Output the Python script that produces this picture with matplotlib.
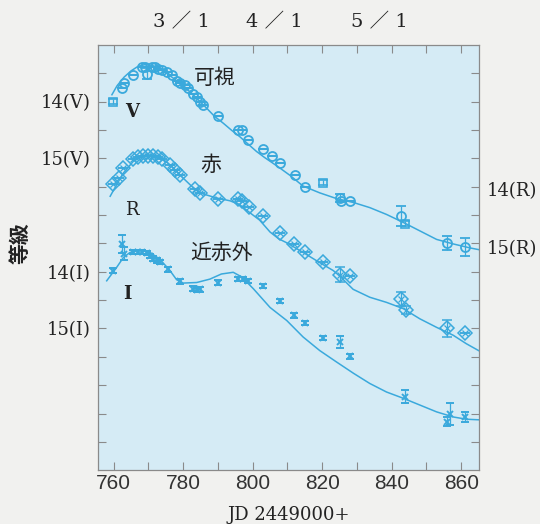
import matplotlib
matplotlib.use("Agg")
import matplotlib.pyplot as plt
import matplotlib.transforms as mtransforms
import numpy as np

# V band (display scale = V)
v_jd = [762.3, 763.0, 765.7, 768.1, 769.0, 769.5, 771.0, 771.9, 772.9, 773.8,
        775.3, 776.7, 778.1, 779.1, 780.5, 781.5, 782.9, 783.9, 784.8, 785.8,
        790.1, 795.9, 796.8, 798.7, 803.0, 805.5, 807.8, 812.2, 815.1, 825.1,
        825.4, 828.0, 842.8, 855.8, 861.0]
v_mag = [13.77, 13.68, 13.54, 13.39, 13.39, 13.51, 13.39, 13.40, 13.42, 13.45,
         13.48, 13.54, 13.63, 13.67, 13.71, 13.77, 13.86, 13.92, 14.01, 14.06,
         14.26, 14.50, 14.51, 14.67, 14.83, 14.96, 15.08, 15.30, 15.51, 15.70,
         15.75, 15.75, 16.02, 16.49, 16.56]
v_err = [0, 0, 0, 0, 0, 0.10, 0, 0, 0, 0,
         0, 0, 0, 0, 0, 0, 0, 0, 0, 0,
         0, 0, 0, 0, 0, 0, 0, 0, 0, 0.07,
         0, 0, 0.17, 0.12, 0.16]
vsq_jd = [759.9, 820.3, 843.8]
vsq_mag = [14.00, 15.43, 16.15]

# R band (display scale = R + 1.5)
r_jd = [759.9, 761.4, 762.8, 765.7, 767.1, 768.5, 770.0, 771.4, 772.9, 773.8,
        776.2, 777.7, 779.1, 783.4, 784.8, 790.1, 795.9, 796.8, 799.0, 803.0,
        808.0, 811.9, 815.0, 820.1, 825.1, 828.0, 842.8, 844.1, 855.8, 861.0]
r_mag = [15.46, 15.35, 15.17, 15.02, 14.98, 14.96, 14.96, 14.96, 14.98, 15.02,
         15.11, 15.20, 15.29, 15.55, 15.61, 15.71, 15.72, 15.75, 15.86, 16.02,
         16.31, 16.51, 16.66, 16.82, 17.05, 17.07, 17.48, 17.68, 18.00, 18.08]
r_err = [0, 0, 0, 0, 0, 0, 0, 0, 0, 0,
         0, 0, 0, 0, 0, 0, 0, 0, 0, 0,
         0, 0, 0, 0, 0.13, 0, 0.12, 0.07, 0.15, 0]

# I band (display scale = I + 3)
i_jd = [759.9, 762.3, 763.0, 765.7, 767.1, 768.1, 769.5, 770.5, 771.4, 772.4,
        773.3, 775.7, 779.1, 782.9, 783.9, 784.8, 790.1, 795.9, 797.3, 798.7,
        802.9, 807.8, 811.9, 815.0, 820.1, 825.1, 828.0, 843.8, 855.8, 856.7,
        861.0]
i_mag = [16.98, 16.51, 16.68, 16.65, 16.65, 16.65, 16.67, 16.72, 16.77, 16.80,
         16.83, 16.96, 17.17, 17.30, 17.32, 17.31, 17.19, 17.13, 17.13, 17.16,
         17.25, 17.52, 17.77, 17.90, 18.17, 18.24, 18.49, 19.20, 19.64, 19.51,
         19.56]
i_err = [0.04, 0.16, 0.12, 0.04, 0.04, 0.04, 0.04, 0.04, 0.04, 0.04,
         0.04, 0.04, 0.04, 0.04, 0.04, 0.04, 0.04, 0.04, 0.04, 0.04,
         0.04, 0.04, 0.04, 0.04, 0.04, 0.10, 0.04, 0.12, 0.08, 0.20,
         0.08]

# model light curves
vm_jd = [759.5, 761.0, 763.0, 765.0, 767.0, 769.0, 771.0, 773.0, 775.0, 777.2,
         780.0, 782.0, 784.0, 786.8, 789.0, 791.5, 794.0, 796.3, 798.5, 801.1,
         803.5, 805.9, 808.0, 810.7, 814.5, 819.3, 824.1, 829.0, 833.7, 838.5,
         843.3, 848.1, 852.9, 857.7, 862.5, 865.0]
vm_mag = [13.88, 13.72, 13.57, 13.46, 13.38, 13.35, 13.36, 13.41, 13.49, 13.59,
          13.74, 13.83, 13.95, 14.12, 14.26, 14.38, 14.51, 14.62, 14.74, 14.88,
          14.99, 15.09, 15.18, 15.30, 15.49, 15.61, 15.71, 15.78, 15.87, 15.99,
          16.13, 16.28, 16.43, 16.51, 16.58, 16.61]
rm_jd = [759.0, 760.9, 762.8, 765.7, 768.5, 771.4, 774.3, 777.2, 780.0, 782.9,
         785.8, 789.6, 793.5, 796.3, 799.2, 802.0, 805.0, 807.5, 809.8, 814.5,
         819.3, 823.2, 825.1, 828.9, 833.7, 838.5, 843.3, 848.1, 852.9, 857.7,
         861.5, 865.0]
rm_mag = [15.67, 15.46, 15.26, 15.05, 14.95, 14.95, 15.02, 15.17, 15.35, 15.52,
          15.63, 15.70, 15.75, 15.82, 15.96, 16.09, 16.30, 16.42, 16.49, 16.66,
          16.84, 16.98, 17.08, 17.31, 17.45, 17.54, 17.65, 17.83, 17.98, 18.12,
          18.27, 18.39]
im_jd = [758.0, 760.9, 762.8, 764.7, 767.6, 770.5, 773.3, 776.2, 778.1, 780.0,
         783.9, 787.7, 791.0, 794.4, 796.8, 800.2, 805.0, 809.8, 814.5, 819.3,
         824.1, 829.0, 833.7, 838.5, 843.3, 848.1, 852.9, 857.7, 861.5, 865.0]
im_mag = [17.16, 16.92, 16.75, 16.66, 16.62, 16.66, 16.78, 16.98, 17.14, 17.20,
          17.19, 17.13, 17.04, 17.01, 17.09, 17.30, 17.63, 17.86, 18.15, 18.39,
          18.59, 18.79, 18.97, 19.12, 19.23, 19.35, 19.47, 19.56, 19.60, 19.61]

month_jd = [779.4, 806.3, 836.5]
month_labels = ["3 ／ 1", "4 ／ 1", "5 ／ 1"]
left_ticks = [14, 15, 17, 18]
left_labels = ["14(V)", "15(V)", "14(I)", "15(I)"]
right_pos = [15.58, 16.6]
right_labels = ["14(R)", "15(R)"]

c = "#3aa9dc"
txt = "#222222"
serif = ["DejaVu Serif", "Noto Sans CJK JP"]
jp = ["Noto Sans CJK JP", "DejaVu Sans"]

fig = plt.figure(figsize=(5.4, 5.24), dpi=100, facecolor="#f1f1ef")
ax = fig.add_axes([0.1815, 0.1025, 0.7048, 0.812])
ax.set_facecolor("#d5ebf5")

ax.plot(vm_jd, vm_mag, color=c, lw=1.1)
ax.plot(rm_jd, rm_mag, color=c, lw=1.1)
ax.plot(im_jd, im_mag, color=c, lw=1.1)

ax.errorbar(v_jd, v_mag, yerr=v_err, fmt="o", ms=6.5, mfc="none", mec=c, mew=1.3,
            ecolor=c, elinewidth=0.9, capsize=3.5, capthick=0.9)
ax.errorbar(vsq_jd, vsq_mag, yerr=[0.05] * len(vsq_jd), fmt="s", ms=6, mfc="none",
            mec=c, mew=1.2, ecolor=c, elinewidth=0.9, capsize=3.5, capthick=0.9)
ax.errorbar(r_jd, r_mag, yerr=r_err, fmt="D", ms=7, mfc="none", mec=c, mew=1.1,
            ecolor=c, elinewidth=0.9, capsize=3.5, capthick=0.9)
ax.plot(r_jd, r_mag, "x", ms=4, color=c, mew=0.9)
ax.errorbar(i_jd, i_mag, yerr=i_err, fmt="x", ms=5, color=c, mew=1.4,
            ecolor=c, elinewidth=0.9, capsize=3, capthick=1.0)

ax.set_xlim(755.5, 865)
ax.set_ylim(20.5, 13.0)

ax.set_xticks(np.arange(760, 861, 20))
ax.set_xticks(np.arange(770, 861, 20), minor=True)
ax.set_yticks(left_ticks)
ax.set_yticklabels(left_labels, fontfamily=serif, fontsize=13, color=txt)
ax.set_yticks(np.arange(13.5, 20.5, 0.5), minor=True)
for lab in ax.get_xticklabels():
    lab.set_fontfamily("Liberation Sans")
    lab.set_fontsize(15)
    lab.set_color("#333333")
ax.tick_params(which="both", direction="in", top=True, right=True,
               length=6, width=0.8, color="#8a8a8a")
ax.tick_params(axis="x", pad=3)
ax.tick_params(axis="y", pad=5)
for sp in ax.spines.values():
    sp.set_color("#8a8a8a")
    sp.set_linewidth(0.9)

top = mtransforms.blended_transform_factory(ax.transData, ax.transAxes)
for x, s in zip(month_jd, month_labels):
    ax.text(x, 1.053, s, transform=top, ha="center", va="center",
            fontsize=14, family=serif, color=txt)

side = mtransforms.blended_transform_factory(ax.transAxes, ax.transData)
for y, s in zip(right_pos, right_labels):
    ax.text(1.022, y, s, transform=side, ha="left", va="center",
            fontsize=13, family=serif, color=txt)

ax.text(789.2, 13.59, "可視", fontsize=15, family=jp, color=txt, ha="center", va="center")
ax.text(788.0, 15.12, "赤", fontsize=15, family=jp, color=txt, ha="center", va="center")
ax.text(791.1, 16.66, "近赤外", fontsize=15, family=jp, color=txt, ha="center", va="center")
ax.text(765.3, 14.18, "V", fontsize=13, family=serif, weight="bold", color=txt,
        ha="center", va="center")
ax.text(765.3, 15.91, "R", fontsize=13, family=serif, color=txt, ha="center", va="center")
ax.text(764.0, 17.40, "I", fontsize=13, family=serif, weight="bold", color=txt,
        ha="center", va="center")

ax.set_xlabel("JD 2449000+", fontsize=13, family=serif, color=txt, labelpad=9)
fig.text(20 / 540, 1 - 243 / 524, "等級", rotation=90, fontsize=15, family=jp,
         weight="bold", color=txt, ha="center", va="center")

fig.savefig("out.png", dpi=100, facecolor=fig.get_facecolor())
